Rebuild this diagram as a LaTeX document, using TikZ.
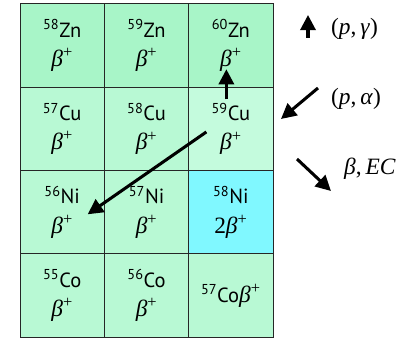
\documentclass[tikz,border=0pt]{standalone}
\usepackage{fontspec}
\setmainfont{PT Sans}
\newfontfamily\termes{Liberation Serif}
\usepackage{tikz}
\usepackage{xcolor}
\usetikzlibrary{arrows.meta, positioning}
\definecolor{topgreen}{HTML}{A8F5C8}
\definecolor{cellgreen}{HTML}{B8F9D4}
\definecolor{palegreen}{HTML}{C4FBDD}
\definecolor{stablecyan}{HTML}{80F8FF}
\newcommand{\betap}{{\termes\fontsize{20}{20}\selectfont\textit{β}\textsuperscript{+}}}
\tikzstyle{nuc} = [rectangle, 
minimum width=2.53cm, 
minimum height=2.5cm, 
outer sep=0pt,
text centered, 
align=center,
line width=0.8pt,
fill=cellgreen,
draw=black!85,
font=\fontsize{17.5}{25}\selectfont]
\tikzstyle{flow} = [line width=2.6pt,-{Triangle[length=13pt,width=13pt]}]
\tikzstyle{legend} = [anchor=west, font=\termes\fontsize{20}{22}\selectfont]

\begin{document}
\begin{tikzpicture}[x=0.03cm, y=-0.03cm, node distance=0pt]
        \useasboundingbox (0,0) rectangle (415,339);

        % --- Nuclei grid ---
        \node (zn58) [nuc, fill=topgreen] at (62.2,45.6) {\textsuperscript{58}Zn\\\betap};
        \node (zn59) [nuc, fill=topgreen, right=of zn58] {\textsuperscript{59}Zn\\\betap};
        \node (zn60) [nuc, fill=topgreen, right=of zn59] {\textsuperscript{60}Zn\\\betap};
        \node (cu57) [nuc, below=of zn58] {\textsuperscript{57}Cu\\\betap};
        \node (cu58) [nuc, below=of zn59] {\textsuperscript{58}Cu\\\betap};
        \node (cu59) [nuc, fill=palegreen, below=of zn60] {\textsuperscript{59}Cu\\\betap};
        \node (ni56) [nuc, below=of cu57] {\textsuperscript{56}Ni\\\betap};
        \node (ni57) [nuc, below=of cu58] {\textsuperscript{57}Ni\\\betap};
        \node (ni58) [nuc, fill=stablecyan, below=of cu59] {\textsuperscript{58}Ni\\{\termes\fontsize{20}{20}\selectfont 2}\betap};
        \node (co55) [nuc, below=of ni56] {\textsuperscript{55}Co\\\betap};
        \node (co56) [nuc, below=of ni57] {\textsuperscript{56}Co\\\betap};
        \node (co57) [nuc, below=of ni58] {\textsuperscript{57}Co\betap};

        % --- Reaction paths ---
        \draw [flow] ([shift={(-4.5,12)}]cu59.north) -- ([shift={(-4.5,-18)}]zn60.south);
        \draw [flow] ([shift={(-24.5,3)}]cu59.center) -- ([shift={(25.5,2)}]ni56.center);

        % --- Legend ---
        \coordinate (pg_from) at (308,38);
        \coordinate (pg_to) at (308,15);
        \coordinate (pa_from) at (318,88);
        \coordinate (pa_to) at (281,119);
        \coordinate (ec_from) at (297,159);
        \coordinate (ec_to) at (331,191);
        \draw [flow] (pg_from) -- (pg_to);
        \draw [flow] (pa_from) -- (pa_to);
        \draw [flow] (ec_from) -- (ec_to);
        \node (pg) [legend] at (327,29) {(\textit{p},\,\textit{γ})};
        \node (pa) [legend] at (327,99) {(\textit{p},\,\textit{α})};
        \node (ec) [legend] at (340,169) {\textit{β},\,\textit{EC}};

    \end{tikzpicture}
\end{document}
